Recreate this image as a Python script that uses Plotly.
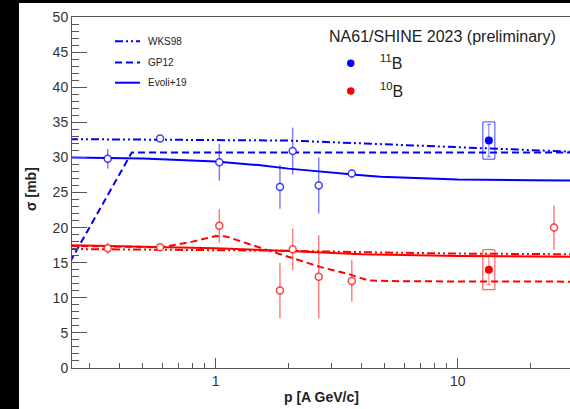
import plotly.graph_objects as go

# ---------------- model curves: p [A GeV/c] -> sigma [mb] ----------------
# 11B production
p_wks98_b = [0.25, 0.5, 1.0, 2.0, 4.0, 8.0, 13.0, 20.0, 30.0]
s_wks98_b = [32.6, 32.55, 32.5, 32.4, 32.0, 31.6, 31.3, 31.0, 30.8]
p_gp12_b = [0.25, 0.45, 1.0, 10.0, 30.0]
s_gp12_b = [15.1, 30.7, 30.7, 30.7, 30.7]
p_evoli_b = [0.25, 0.5, 1.0, 1.5, 2.0, 3.0, 4.0, 4.8, 6.0, 10.0, 20.0, 30.0]
s_evoli_b = [30.0, 29.85, 29.4, 28.9, 28.4, 27.8, 27.45, 27.25, 27.1, 26.85, 26.75, 26.7]

# 10B production
p_wks98_r = [0.25, 1.0, 2.0, 5.0, 10.0, 30.0]
s_wks98_r = [16.95, 16.85, 16.7, 16.45, 16.3, 16.2]
p_gp12_r = [0.25, 0.45, 0.6, 0.8, 1.0, 1.1, 1.2, 1.6, 2.1, 2.7, 3.6, 4.3, 6.0, 30.0]
s_gp12_r = [17.4, 17.25, 17.2, 18.0, 18.8, 18.75, 18.3, 16.9, 15.6, 14.4, 13.3, 12.45, 12.35, 12.3]
p_evoli_r = [0.25, 0.5, 1.0, 2.0, 4.0, 10.0, 30.0]
s_evoli_r = [17.5, 17.3, 17.05, 16.65, 16.2, 15.95, 15.85]

# ---------------- earlier measurements (open markers) ----------------
p_b_open = [0.358, 0.589, 1.035, 1.843, 2.08, 2.665, 3.65]
s_b_open = [29.8, 32.7, 29.3, 25.8, 30.9, 26.0, 27.7]
e_b_open = [1.4, 0.0, 2.6, 3.1, 3.35, 4.0, 0.6]

p_r_open = [0.358, 0.589, 1.035, 1.843, 2.08, 2.665, 3.65, 25.0]
s_r_open = [17.05, 17.2, 20.25, 11.05, 16.9, 13.0, 12.4, 20.0]
e_r_open = [0.8, 0.0, 2.4, 3.95, 2.95, 5.9, 2.95, 3.15]

# ---------------- NA61/SHINE 2023 (preliminary) ----------------
p_na61 = [13.45]
s_11b = [32.4]
stat_11b = [2.3]
sys_11b = [2.65]
s_10b = [14.0]
stat_10b = [2.15]
sys_10b = [2.85]

# axis labels
x_title = "p [A GeV/c]"
y_title = "σ [mb]"
model_names = ["WKS98", "GP12", "Evoli+19"]
na61_title = "NA61/SHINE 2023 (preliminary)"
iso_labels = ["<sup>11</sup>B", "<sup>10</sup>B"]

BLUE = "#0000ff"
RED = "#ff0000"
FONT = "Liberation Sans, Arial, sans-serif"

W, H = 570, 409
ML, MR, MT, MB = 72, 0, 17, 41
PW = W - ML - MR
PH = H - MT - MB


def xp(px):
    return (px - ML) / PW


def yp(py):
    return (H - MB - py) / PH


DASHDOT = "8px,3px,2px,3px,2px,3px"
DASH = "7px,4px"

fig = go.Figure()


def curve(px, py, color, dash):
    fig.add_trace(go.Scatter(x=px, y=py, mode="lines",
                             line=dict(color=color, width=2, dash=dash),
                             showlegend=False, hoverinfo="skip"))


curve(p_wks98_b, s_wks98_b, BLUE, DASHDOT)
curve(p_gp12_b, s_gp12_b, BLUE, DASH)
curve(p_evoli_b, s_evoli_b, BLUE, "solid")
curve(p_wks98_r, s_wks98_r, RED, DASHDOT)
curve(p_gp12_r, s_gp12_r, RED, DASH)
curve(p_evoli_r, s_evoli_r, RED, "solid")


def open_points(px, py, pe, line_rgb):
    fig.add_trace(go.Scatter(
        x=px, y=py, mode="markers",
        error_y=dict(type="data", array=pe, visible=True, width=0,
                     thickness=1.5, color="rgba(%s,0.5)" % line_rgb),
        marker=dict(symbol="circle", size=7, color="white",
                    line=dict(color="rgba(%s,0.75)" % line_rgb, width=1.5)),
        showlegend=False, hoverinfo="skip"))


open_points(p_b_open, s_b_open, e_b_open, "0,0,255")
open_points(p_r_open, s_r_open, e_r_open, "255,0,0")


def na61_point(px, py, stat, sysu, color, rgb):
    # systematic box
    f = 1.059
    for xv, yv, sv in zip(px, py, sysu):
        fig.add_trace(go.Scatter(
            x=[xv / f, xv * f, xv * f, xv / f, xv / f],
            y=[yv - sv, yv - sv, yv + sv, yv + sv, yv - sv],
            mode="lines", line=dict(color="rgba(%s,0.75)" % rgb, width=1),
            showlegend=False, hoverinfo="skip"))
    fig.add_trace(go.Scatter(
        x=px, y=py, mode="markers",
        error_y=dict(type="data", array=stat, visible=True, width=2,
                     thickness=1, color="rgba(%s,0.55)" % rgb),
        marker=dict(symbol="circle", size=8, color=color),
        showlegend=False, hoverinfo="skip"))


na61_point(p_na61, s_11b, stat_11b, sys_11b, BLUE, "0,0,255")
na61_point(p_na61, s_10b, stat_10b, sys_10b, RED, "255,0,0")

shapes = [
    # white canvas with a dark border on the left and top
    dict(type="rect", xref="paper", yref="paper", layer="below",
         x0=xp(19), x1=xp(W + 5), y0=yp(H + 5), y1=yp(3),
         fillcolor="white", line=dict(width=0)),
]
annotations = []

# model legend
for name, dash, ypix in zip(model_names, [DASHDOT, DASH, "solid"], [41.3, 62.5, 82.7]):
    shapes.append(dict(type="line", xref="paper", yref="paper",
                       x0=xp(115), x1=xp(140), y0=yp(ypix), y1=yp(ypix),
                       line=dict(color=BLUE, width=2, dash=dash)))
    annotations.append(dict(xref="paper", yref="paper", x=xp(146), y=yp(ypix),
                            xanchor="left", yanchor="middle", showarrow=False,
                            text=name, font=dict(size=10, color="#222", family=FONT)))

# data legend
annotations.append(dict(xref="paper", yref="paper", x=xp(327), y=yp(36),
                        xanchor="left", yanchor="middle", showarrow=False,
                        text=na61_title, font=dict(size=16, color="#222", family=FONT)))
for lab, col, ypix in zip(iso_labels, [BLUE, RED], [63.3, 91.0]):
    shapes.append(dict(type="circle", xref="paper", yref="paper",
                       x0=xp(347), x1=xp(354.5), y0=yp(ypix + 3.75), y1=yp(ypix - 3.75),
                       fillcolor=col, line=dict(color=col, width=0)))
    annotations.append(dict(xref="paper", yref="paper", x=xp(378), y=yp(ypix - 1),
                            xanchor="left", yanchor="middle", showarrow=False,
                            text=lab, font=dict(size=16, color="#222", family=FONT)))

# axis titles
annotations.append(dict(xref="paper", yref="paper", x=xp(321), y=yp(397),
                        xanchor="center", yanchor="middle", showarrow=False,
                        text="<b>%s</b>" % x_title,
                        font=dict(size=14, color="#222", family=FONT)))
annotations.append(dict(xref="paper", yref="paper", x=xp(31), y=yp(189),
                        xanchor="center", yanchor="middle", showarrow=False,
                        textangle=-90, text="<b>%s</b>" % y_title,
                        font=dict(size=14, color="#222", family=FONT)))

AX = "#555"
fig.update_layout(
    width=W, height=H, autosize=False,
    margin=dict(l=ML, r=MR, t=MT, b=MB, pad=0),
    paper_bgcolor="black", plot_bgcolor="white",
    font=dict(family=FONT, size=14, color="#333"),
    shapes=shapes, annotations=annotations,
    xaxis=dict(type="log", range=[-0.5938, 1.4640], dtick=1,
               showgrid=False, zeroline=False,
               showline=True, linecolor=AX, linewidth=1, mirror=True,
               ticks="inside", ticklen=10, tickcolor=AX, tickwidth=1,
               minor=dict(dtick="D1", ticks="inside", ticklen=5,
                          tickcolor=AX, tickwidth=1, showgrid=False),
               tickfont=dict(size=14, color="#333")),
    yaxis=dict(range=[0, 50], dtick=5, showgrid=False, zeroline=False,
               showline=True, linecolor=AX, linewidth=1,
               ticks="inside", ticklen=15, tickcolor=AX, tickwidth=1,
               minor=dict(dtick=1, ticks="inside", ticklen=7,
                          tickcolor=AX, tickwidth=1, showgrid=False),
               tickfont=dict(size=14, color="#333")),
)

fig.write_html("out.html")
